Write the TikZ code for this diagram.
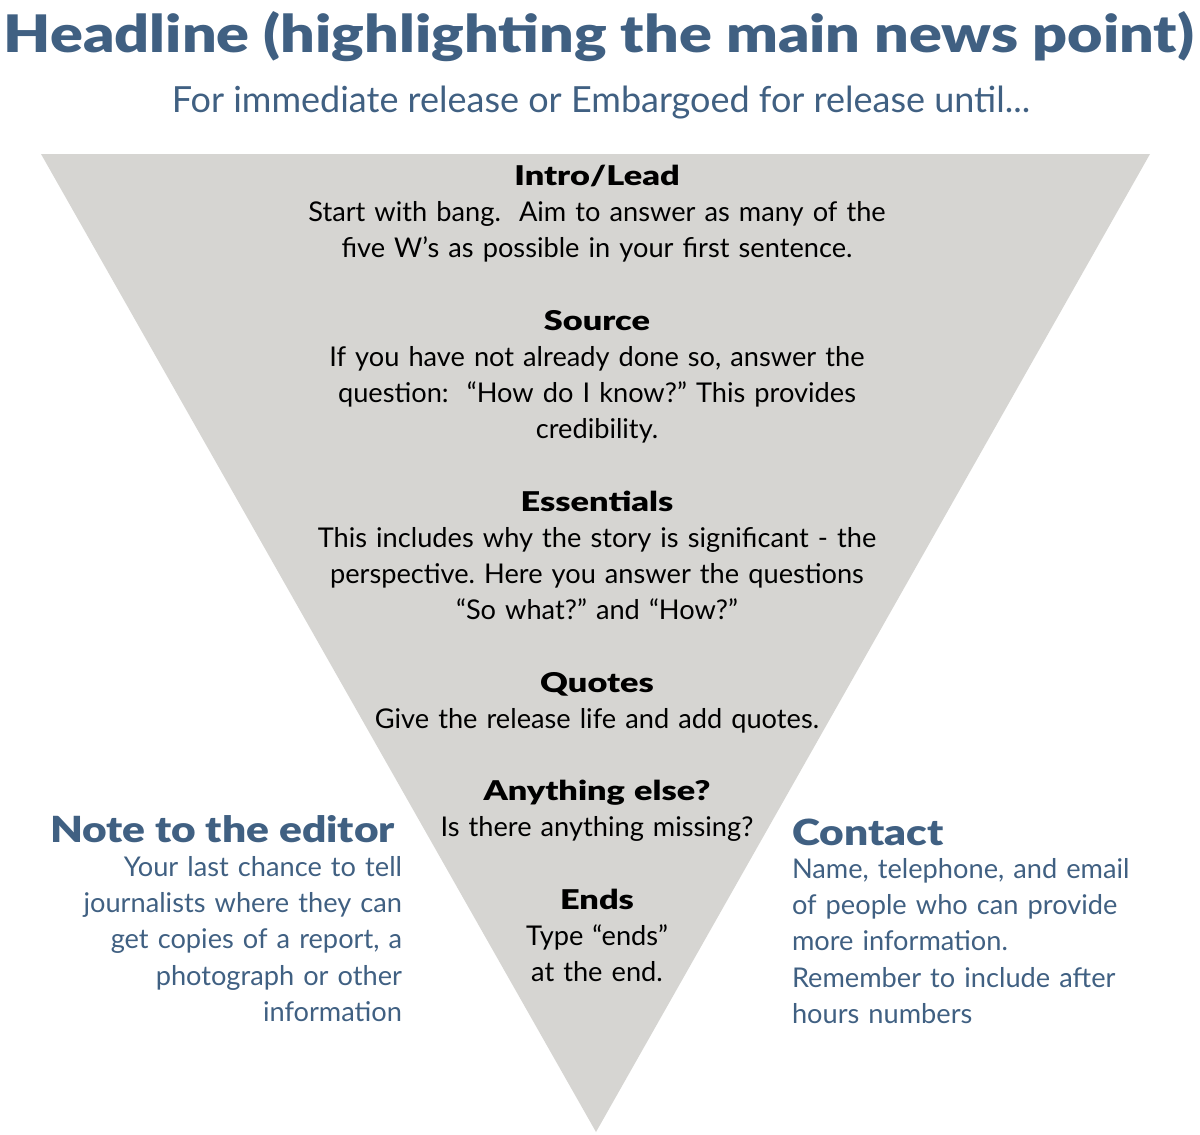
\documentclass[tikz,border=0pt]{standalone}
\usepackage{fontspec}
\setmainfont{Lato}
\newfontfamily\heavyfont{Lato Black}[FakeStretch=1.18]
\newfontfamily\partfont{Lato Black}[FakeStretch=1.26]
\frenchspacing

\begin{document}
\begin{tikzpicture}[x=1pt,y=-1pt,every node/.style={inner sep=0pt,outer sep=0pt},
	title/.style={font=\heavyfont\fontsize{51.7}{60}\selectfont,text=cblue},
	release/.style={font=\fontsize{36}{42}\selectfont,text=cblue},
	part/.style={text width=700pt,align=center,font=\fontsize{27.2}{36.3}\selectfont,text=black},
	sidehead/.style={font=\heavyfont\fontsize{36}{40}\selectfont,text=cblue},
	sidetext/.style={text width=420pt,font=\fontsize{27.2}{36.4}\selectfont,text=cblue}]
\definecolor{cblue}{RGB}{64,96,130}       %slate blue
\definecolor{cgrey}{RGB}{214,213,210}     %light grey
\useasboundingbox (0,0) rectangle (1200,1135);
\fill[cgrey] (41,154) -- (1150,154) -- (596,1132) -- cycle;
\node[title,anchor=base] (headline) at (599,52) {Headline (highlighting the main news point)};
\node[release,anchor=base] (release) at (601,112) {For immediate release or Embargoed for release until...};
\node[part,anchor=base] (lead) at (597,185) {{\partfont Intro/Lead}\\
	Start with bang.\ \ Aim to answer as many of the\\
	five W’s as possible in your first sentence.};
\node[part,anchor=base] (source) at (597,330) {{\partfont Source}\\
	If you have not already done so, answer the\\
	question:\ \ “How do I know?” This provides\\
	credibility.};
\node[part,anchor=base] (essentials) at (597,511) {{\partfont Essentials}\\
	This includes why the story is significant - the\\
	perspective. Here you answer the questions\\
	“So what?” and “How?”};
\node[part,anchor=base] (quotes) at (597,692) {{\partfont Quotes}\\
	Give the release life and add quotes.};
\node[part,anchor=base] (extra) at (597,800) {{\partfont Anything else?}\\
	Is there anything missing?};
\node[part,anchor=base] (ends) at (597,909) {{\partfont Ends}\\
	Type “ends”\\
	at the end.};
% side notes
\node[sidehead,anchor=base west] (editorhead) at (50,842) {Note to the editor};
\node[sidetext,align=right,anchor=base east] (editortext) at (402,876) {Your last chance to tell\\
	journalists where they can\\
	get copies of a report, a\\
	photograph or other\\
	information};
\node[sidehead,anchor=base west] (contacthead) at (792,845) {Contact};
\node[sidetext,align=left,anchor=base west] (contacttext) at (792,878) {Name, telephone, and email\\
	of people who can provide\\
	more information.\\
	Remember to include after\\
	hours numbers};
\end{tikzpicture}
\end{document}
